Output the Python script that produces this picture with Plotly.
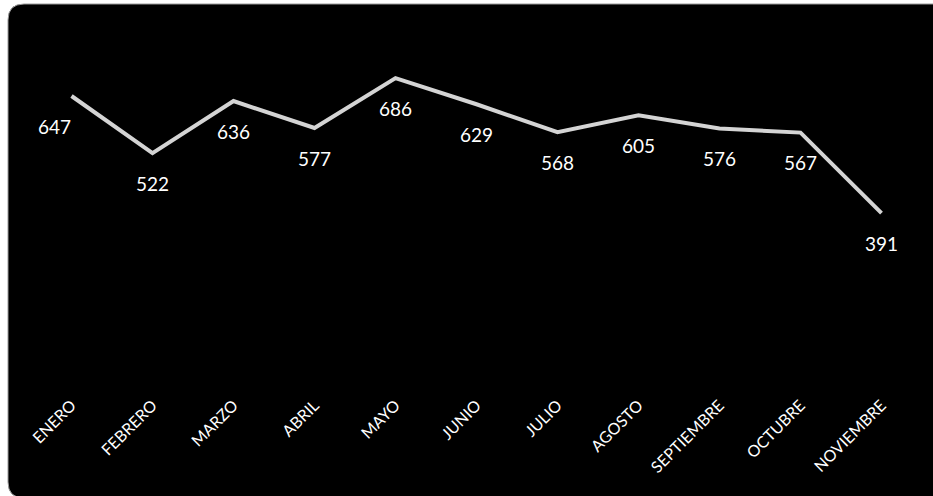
import plotly.graph_objects as go

months = ["ENERO", "FEBRERO", "MARZO", "ABRIL", "MAYO", "JUNIO", "JULIO",
          "AGOSTO", "SEPTIEMBRE", "OCTUBRE", "NOVIEMBRE"]
values = [647, 522, 636, 577, 686, 629, 568, 605, 576, 567, 391]

W, H = 933, 496
L, R, T, B = 31, 11, 26, 104
PW, PH = W - L - R, H - T - B

def px(x):
    return (x - L) / PW

def py(y):
    return (H - B - y) / PH

fig = go.Figure()
fig.add_trace(go.Scatter(
    x=months, y=values, mode="lines",
    line=dict(color="#d4d4d4", width=4),
    hoverinfo="skip", showlegend=False,
))

xshifts = [-17] + [0] * (len(values) - 1)
for m, v, xs in zip(months, values, xshifts):
    fig.add_annotation(x=m, y=v, text=str(v), showarrow=False,
                       xshift=xs, yshift=-30,
                       font=dict(family="Lato", size=19, color="#ffffff"))

# rounded black background panel
x0, x1, y0, y1, r = 8, 935, 4, 498, 16
path = (f"M {px(x0 + r)} {py(y0)} L {px(x1)} {py(y0)} L {px(x1)} {py(y1)} "
        f"L {px(x0 + r)} {py(y1)} Q {px(x0)} {py(y1)} {px(x0)} {py(y1 - r)} "
        f"L {px(x0)} {py(y0 + r)} Q {px(x0)} {py(y0)} {px(x0 + r)} {py(y0)} Z")
fig.add_shape(type="path", path=path, xref="paper", yref="paper",
              fillcolor="#000000", line=dict(color="#9a9a9a", width=1),
              layer="below")

fig.update_layout(
    width=W, height=H,
    margin=dict(l=L, r=R, t=T, b=B),
    paper_bgcolor="#ffffff",
    plot_bgcolor="rgba(0,0,0,0)",
    xaxis=dict(type="category", range=[-0.5, len(months) - 0.5],
               showgrid=False, zeroline=False, showline=False,
               tickangle=-45, ticks="",
               tickfont=dict(family="Lato", size=16, color="#ffffff")),
    yaxis=dict(range=[0, 800], showgrid=False, zeroline=False,
               showline=False, showticklabels=False),
)

fig.write_html("out.html", config={"displayModeBar": False},
               post_script="document.body.style.margin='0';document.body.style.overflow='hidden';")
